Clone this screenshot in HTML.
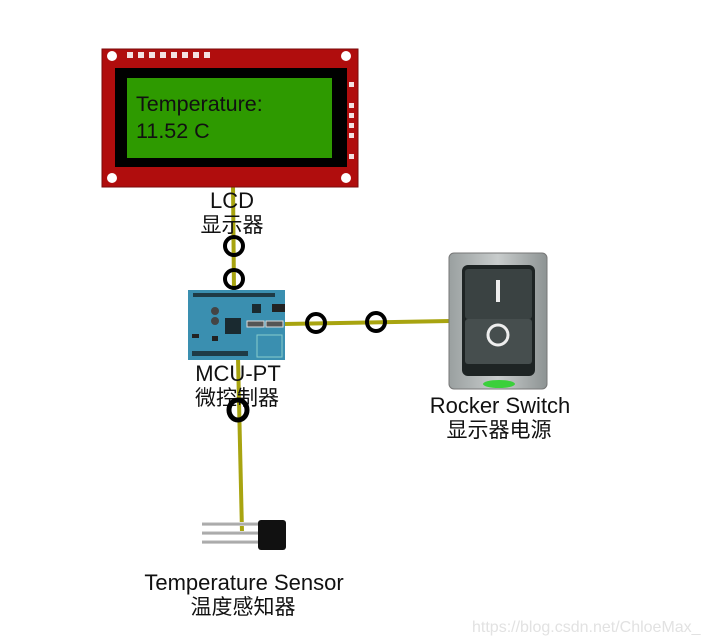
<!DOCTYPE html>
<html><head><meta charset="utf-8"><style>
html,body{margin:0;padding:0;background:#fff;width:707px;height:644px;overflow:hidden}
svg{display:block}
text{font-family:"Liberation Sans","Noto Sans CJK SC",sans-serif}
</style></head><body>
<svg width="707" height="644" viewBox="0 0 707 644" xmlns="http://www.w3.org/2000/svg">
<defs>
<linearGradient id="sw" x1="0" y1="0" x2="1" y2="0"><stop offset="0" stop-color="#9aa0a0"/><stop offset=".5" stop-color="#c8cccc"/><stop offset="1" stop-color="#8d9393"/></linearGradient>
<linearGradient id="lead" x1="0" y1="0" x2="0" y2="1"><stop offset="0" stop-color="#eee"/><stop offset=".5" stop-color="#999"/><stop offset="1" stop-color="#ddd"/></linearGradient>
</defs>
<g stroke="#a8a410" stroke-width="4" fill="none">
<line x1="233" y1="185" x2="234" y2="292"/>
<line x1="284" y1="324" x2="450" y2="321"/>
<line x1="238" y1="358" x2="242" y2="532"/>
</g>
<rect x="102" y="49" width="256" height="138" fill="#b00d0d" stroke="#7a0a0a"/>
<rect x="115" y="68" width="232" height="99" fill="#000"/>
<rect x="127" y="78" width="205" height="80" fill="#2e9a00"/>
<text x="136" y="111" font-size="21.5" fill="#111">Temperature:</text>
<text x="136" y="138" font-size="21.5" fill="#111">11.52 C</text>
<g fill="#fff"><circle cx="112" cy="56" r="5"/><circle cx="346" cy="56" r="5"/><circle cx="112" cy="178" r="5"/><circle cx="346" cy="178" r="5"/></g>
<g fill="#f4e0e0">
<rect x="127" y="52" width="6" height="6"/><rect x="138" y="52" width="6" height="6"/><rect x="149" y="52" width="6" height="6"/><rect x="160" y="52" width="6" height="6"/><rect x="171" y="52" width="6" height="6"/><rect x="182" y="52" width="6" height="6"/><rect x="193" y="52" width="6" height="6"/><rect x="204" y="52" width="6" height="6"/>
<rect x="349" y="82" width="5" height="5"/><rect x="349" y="103" width="5" height="5"/><rect x="349" y="113" width="5" height="5"/><rect x="349" y="123" width="5" height="5"/><rect x="349" y="133" width="5" height="5"/><rect x="349" y="154" width="5" height="5"/>
</g>
<text x="232" y="208" font-size="22" text-anchor="middle" fill="#111">LCD</text>
<text x="232" y="232" font-size="21" text-anchor="middle" fill="#111">显示器</text>
<rect x="188" y="290" width="97" height="70" fill="#3a8fb0"/>
<rect x="193" y="293" width="82" height="4" fill="#1e3b46"/>
<rect x="192" y="351" width="56" height="5" fill="#1e3b46"/>
<rect x="225" y="318" width="16" height="16" fill="#1a2a30"/>
<rect x="252" y="304" width="9" height="9" fill="#1a2a30"/>
<rect x="272" y="304" width="13" height="8" fill="#222"/>
<rect x="247" y="321" width="17" height="6" fill="#555" stroke="#ddd"/>
<rect x="266" y="321" width="17" height="6" fill="#555" stroke="#ddd"/>
<rect x="257" y="335" width="25" height="22" fill="none" stroke="#8cc"/>
<circle cx="215" cy="311" r="4" fill="#444"/><circle cx="215" cy="321" r="4" fill="#444"/>
<rect x="212" y="336" width="6" height="5" fill="#222"/>
<rect x="192" y="334" width="7" height="4" fill="#222"/>
<text x="238" y="381" font-size="22" text-anchor="middle" fill="#111">MCU-PT</text>
<text x="237" y="405" font-size="21" text-anchor="middle" fill="#111">微控制器</text>
<g fill="none" stroke="#000" stroke-width="4">
<circle cx="234" cy="246" r="9"/>
<circle cx="234" cy="279" r="9"/>
<circle cx="316" cy="323" r="9"/>
<circle cx="376" cy="322" r="9"/>
<ellipse cx="238" cy="410" rx="9" ry="10" stroke-width="5"/>
</g>
<rect x="449" y="253" width="98" height="136" rx="5" fill="url(#sw)" stroke="#777"/>
<rect x="462" y="265" width="73" height="111" rx="6" fill="#1e2424"/>
<rect x="465" y="269" width="67" height="50" rx="3" fill="#3a4242"/>
<rect x="465" y="319" width="67" height="45" rx="3" fill="#464e4e"/>
<rect x="496" y="280" width="4" height="22" fill="#eee"/>
<circle cx="498" cy="335" r="10" fill="none" stroke="#eee" stroke-width="3"/>
<ellipse cx="499" cy="384" rx="16" ry="4" fill="#3bd03b"/>
<text x="500" y="413" font-size="22" text-anchor="middle" fill="#111">Rocker Switch</text>
<text x="499" y="437" font-size="21" text-anchor="middle" fill="#111">显示器电源</text>
<rect x="202" y="522" width="58" height="4" fill="url(#lead)"/>
<rect x="202" y="531" width="58" height="4" fill="url(#lead)"/>
<rect x="202" y="540" width="58" height="4" fill="url(#lead)"/>
<rect x="258" y="520" width="28" height="30" rx="3" fill="#111"/>
<text x="244" y="590" font-size="22" text-anchor="middle" fill="#111">Temperature Sensor</text>
<text x="243" y="614" font-size="21" text-anchor="middle" fill="#111">温度感知器</text>
<text x="472" y="632" font-size="16" fill="#e2e2e2">https://blog.csdn.net/ChloeMax_</text>
</svg>
</body></html>
